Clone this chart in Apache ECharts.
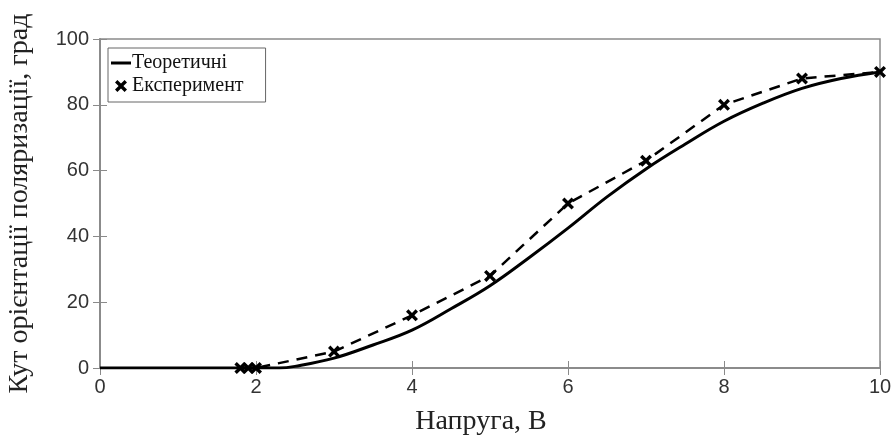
<!DOCTYPE html>
<html><head><meta charset="utf-8">
<script src="https://cdn.jsdelivr.net/npm/echarts@6/dist/echarts.min.js"></script>
<style>html,body{margin:0;padding:0;background:#fff}#c{width:895px;height:443px}</style>
</head><body><div id="c"></div>
<script>
const theoX = [0, 1, 2, 2.3, 2.5, 3, 3.5, 4, 4.5, 5, 5.5, 6, 6.5, 7, 7.5, 8, 8.5, 9, 9.5, 10];
const theoY = [0, 0, 0, 0, 0.5, 3, 7, 11.5, 18, 25, 33.5, 42.5, 52, 60.5, 68, 75, 80.5, 85, 88, 90];
const expX = [1.8, 1.9, 2.0, 3, 4, 5, 6, 7, 8, 9, 10];
const expY = [0, 0, 0, 5, 16, 28, 50, 63, 80, 88, 90];
const xTicks = [0, 2, 4, 6, 8, 10];
const yTicks = [0, 20, 40, 60, 80, 100];
const names = ['Теоретичні', 'Експеримент'];

const xMark = 'path://M0,2L2,0L5,3L8,0L10,2L7,5L10,8L8,10L5,7L2,10L0,8L3,5Z';
const lineIcon = 'path://M0,0L20,0L20,3L0,3Z';
const chart = echarts.init(document.getElementById('c'));
const axisCol = '#8a8a8a';
const serif = '"Liberation Serif", "Times New Roman", serif';
const lbl = {color:'#333', fontFamily:'"Liberation Sans", Arial, sans-serif', fontSize:20};
chart.setOption({
  animation:false,
  grid:{left:100, right:15, top:39, bottom:75, outerBoundsMode:'none', containLabel:false,
        show:true, borderColor:axisCol, borderWidth:1.5, backgroundColor:'transparent'},
  legend:{
    orient:'vertical', left:108, top:48, itemGap:1, itemWidth:20, itemHeight:12,
    borderColor:'#666', borderWidth:1, borderRadius:0, padding:[4,22,5,3],
    textStyle:{fontFamily:serif, fontSize:20, color:'#111', padding:[0,0,0,-4], lineHeight:22},
    data:[{name:names[0], icon:lineIcon, itemStyle:{color:'#000'}}, {name:names[1], icon:xMark}]
  },
  xAxis:[{
    type:'value', min:0, max:10, interval:2, position:'bottom',
    name:'Напруга, В', nameLocation:'middle', nameGap:40,
    nameTextStyle:{fontFamily:serif, fontSize:28, color:'#222', padding:[0,18,0,0]},
    axisLine:{show:true, lineStyle:{color:axisCol, width:1.5}},
    axisTick:{show:true, inside:true, length:7, lineStyle:{color:axisCol}},
    axisLabel:Object.assign({margin:9}, lbl),
    splitLine:{show:false}
  },{
    type:'value', min:0, max:10, interval:2, position:'top',
    axisLine:{show:true, lineStyle:{color:axisCol, width:1.5}},
    axisTick:{show:true, inside:true, length:7, lineStyle:{color:axisCol}},
    axisLabel:{show:false}, splitLine:{show:false}
  }],
  yAxis:[{
    type:'value', min:0, max:100, interval:20, position:'left',
    name:'Кут орієнтації поляризації, град', nameLocation:'middle', nameGap:66, nameRotate:90,
    nameTextStyle:{fontFamily:serif, fontSize:28, color:'#222'},
    axisLine:{show:true, lineStyle:{color:axisCol, width:1.5}},
    axisTick:{show:true, inside:true, length:7, lineStyle:{color:axisCol}},
    axisLabel:Object.assign({margin:11}, lbl),
    splitLine:{show:false}
  },{
    type:'value', min:0, max:100, interval:20, position:'right',
    axisLine:{show:true, lineStyle:{color:axisCol, width:1.5}},
    axisTick:{show:true, inside:true, length:7, lineStyle:{color:axisCol}},
    axisLabel:{show:false}, splitLine:{show:false}
  }],
  series:[{
    name:names[0], type:'line', smooth:0.4, showSymbol:false, symbol:'none',
    data:theoX.map((x,i)=>[x, theoY[i]]),
    lineStyle:{color:'#000', width:3}, itemStyle:{color:'#000'}, z:3
  },{
    name:names[1], type:'line', smooth:false, symbol:xMark, symbolSize:12,
    data:expX.map((x,i)=>[x, expY[i]]),
    lineStyle:{color:'#000', width:2.5, type:[11,8]}, itemStyle:{color:'#000'}, z:4
  },{
    name:'_frame', type:'line', xAxisIndex:1, yAxisIndex:1, data:[], silent:true
  }]
});
</script></body></html>
